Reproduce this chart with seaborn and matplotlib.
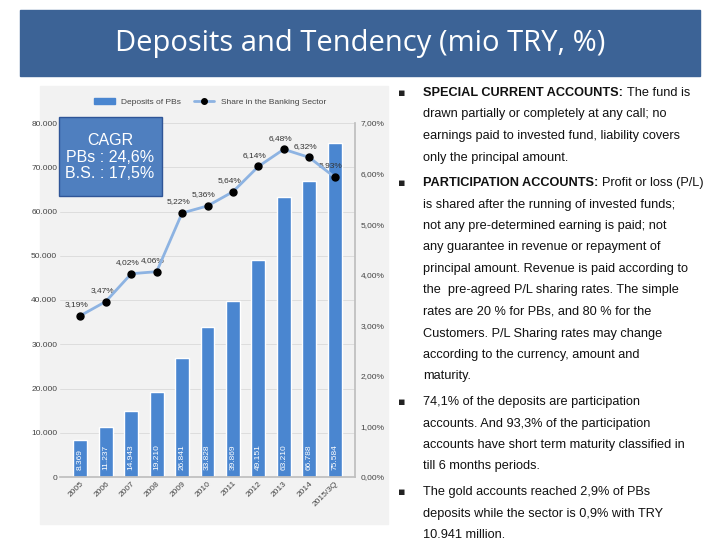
import matplotlib
matplotlib.use("Agg")
import matplotlib.pyplot as plt
import matplotlib.patches as mpatches
import seaborn as sns
import pandas as pd

years = ['2005', '2006', '2007', '2008', '2009', '2010', '2011', '2012', '2013', '2014', '2015/3Q']
deposits = [8369, 11237, 14943, 19210, 26841, 33828, 39869, 49151, 63210, 66788, 75584]
share = [3.19, 3.47, 4.02, 4.06, 5.22, 5.36, 5.64, 6.14, 6.48, 6.32, 5.93]
left_ticks = [0, 10000, 20000, 30000, 40000, 50000, 60000, 70000, 80000]
right_ticks = [0, 1, 2, 3, 4, 5, 6, 7]

bullets = [
    ("SPECIAL CURRENT ACCOUNTS:", ["The fund is", "drawn partially or completely at any call; no",
                                  "earnings paid to invested fund, liability covers", "only the principal amount."]),
    ("PARTICIPATION ACCOUNTS:", ["Profit or loss (P/L)", "is shared after the running of invested funds;",
                                 "not any pre-determined earning is paid; not",
                                 "any guarantee in revenue or repayment of",
                                 "principal amount. Revenue is paid according to",
                                 "the  pre-agreed P/L sharing rates. The simple",
                                 "rates are 20 % for PBs, and 80 % for the",
                                 "Customers. P/L Sharing rates may change",
                                 "according to the currency, amount and", "maturity."]),
    ("", ["74,1% of the deposits are participation", "accounts. And 93,3% of the participation",
          "accounts have short term maturity classified in", "till 6 months periods."]),
    ("", ["The gold accounts reached 2,9% of PBs", "deposits while the sector is 0,9% with TRY",
          "10.941 million."]),
]
bullet_y = [93, 183, 402, 492]

def fmt(v):
    return f"{v:,.0f}".replace(",", ".")

sns.set_theme(style="white")
plt.rcParams['font.family'] = ['Liberation Sans', 'DejaVu Sans']

fig = plt.figure(figsize=(7.2, 5.4), dpi=100)
fig.patch.set_facecolor('white')

# title bar
fig.patches.append(mpatches.Rectangle((20 / 720, 1 - 76 / 540), 680 / 720, 66 / 540,
                                      transform=fig.transFigure, color='#3c6396', zorder=-1))
fig.text(360 / 720, 1 - 44 / 540, "Deposits and Tendency (mio TRY, %)", color='white',
         fontsize=21, ha='center', va='center', family=['Open Sans', 'DejaVu Sans'])
# chart background
fig.patches.append(mpatches.Rectangle((40 / 720, 1 - 524 / 540), 348 / 720, 438 / 540,
                                      transform=fig.transFigure, color='#f2f2f2', zorder=-1))

df = pd.DataFrame({'year': years, 'deposits': deposits, 'share': share})
ax = fig.add_axes([60 / 720, 1 - 477 / 540, 295 / 720, 354 / 540])
ax.set_facecolor('none')
sns.barplot(data=df, x='year', y='deposits', color='#4a86d0', saturation=1, width=0.55, ax=ax, zorder=2)
ax.set_ylim(0, 80000)
ax.set_yticks(left_ticks)
ax.set_yticklabels([fmt(t) for t in left_ticks], fontsize=6, color='#444444')
ax.set_xlabel('')
ax.set_ylabel('')
ax.set_xticks(range(len(years)))
ax.set_xticklabels(years, rotation=45, ha='right', rotation_mode='anchor', fontsize=6, color='#444444')
ax.tick_params(axis='both', length=0, pad=2)
for y in left_ticks[1:]:
    ax.axhline(y, color='#d9d9d9', lw=0.6, zorder=0)
for s in ax.spines.values():
    s.set_visible(False)
ax.spines['bottom'].set_visible(True)
ax.spines['bottom'].set_color('#bfbfbf')
for i, v in enumerate(deposits):
    ax.text(i, 1500, fmt(v), rotation=90, ha='center', va='bottom', fontsize=6, color='white', zorder=3)

ax2 = ax.twinx()
ax2.plot(range(len(years)), share, color='#8db3e2', lw=2, marker='o', markersize=5,
         markerfacecolor='black', markeredgecolor='black', zorder=4)
ax2.set_ylim(0, 7)
ax2.set_yticks(right_ticks)
ax2.set_yticklabels([f"{t},00%" for t in right_ticks], fontsize=6, color='#444444')
ax2.tick_params(axis='y', length=0, pad=4)
for s in ['top', 'left', 'bottom']:
    ax2.spines[s].set_visible(False)
ax2.spines['right'].set_color('#bfbfbf')
for i, v in enumerate(share):
    ax2.text(i - 0.15, v + 0.15, f"{v:.2f}%".replace('.', ','), fontsize=6, ha='center', va='bottom',
             color='#333333')

# legend
h1 = mpatches.Patch(color='#4a86d0', label='Deposits of PBs')
h2 = plt.Line2D([], [], color='#8db3e2', lw=2, marker='o', markerfacecolor='black',
                markeredgecolor='black', markersize=4, label='Share in the Banking Sector')
fig.legend(handles=[h1, h2], loc='center', bbox_to_anchor=(210 / 720, 1 - 102 / 540), ncol=2,
           frameon=False, fontsize=6, handlelength=2.5, columnspacing=1.5, labelcolor='#444444')

# CAGR box
fig.patches.append(mpatches.Rectangle((59 / 720, 1 - 196 / 540), 103 / 720, 79 / 540,
                                      transform=fig.transFigure, facecolor='#4f7fbf',
                                      edgecolor='#2f5597', lw=1, zorder=5))
fig.text(110 / 720, 1 - 157 / 540, "CAGR\nPBs : 24,6%\nB.S. : 17,5%", color='white', fontsize=11.5,
         ha='center', va='center', linespacing=1.15, zorder=6)

# bullet text
fig.canvas.draw()
r = fig.canvas.get_renderer()
for (bold, lines), y0 in zip(bullets, bullet_y):
    fig.text(398 / 720, 1 - y0 / 540, "\u25aa", fontsize=8, va='center', color='#222222',
             family=['DejaVu Sans'])
    for j, line in enumerate(lines):
        y = 1 - (y0 + j * 21.5) / 540
        x = 423 / 720
        if j == 0 and bold:
            t = fig.text(x, y, bold, fontsize=9.2, fontweight='bold', va='center', color='#111111')
            w = t.get_window_extent(r).width
            x += (w + 4) / 720
        fig.text(x, y, line, fontsize=9.2, va='center', color='#111111')

fig.savefig('out.png', dpi=100)
